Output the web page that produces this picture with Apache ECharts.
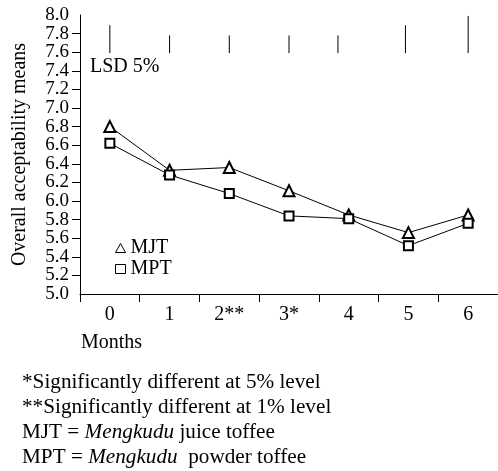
<!DOCTYPE html>
<html>
<head>
<meta charset="utf-8">
<script src="https://cdn.jsdelivr.net/npm/echarts@6/dist/echarts.min.js"></script>
<style>
  html, body { margin: 0; padding: 0; background: #fff; }
  #chart { width: 498px; height: 471px; }
</style>
</head>
<body>
<div id="chart"></div>
<script>
// months (category labels)
var months = ["0", "1", "2**", "3*", "4", "5", "6"];
// overall acceptability means
var mjt = [6.80, 6.33, 6.36, 6.11, 5.85, 5.66, 5.85];
var mpt = [6.62, 6.28, 6.08, 5.84, 5.81, 5.52, 5.76];
// LSD 5% bars: x position (months), bottom, top
var lsdX = [0, 1, 2, 3, 3.82, 4.95, 6];
var lsdBottom = [7.59, 7.59, 7.59, 7.59, 7.59, 7.59, 7.59];
var lsdTop = [7.89, 7.78, 7.78, 7.78, 7.78, 7.89, 7.99];
// y range
var yMin = 5;
var yMax = 8;

var serif = "'Liberation Serif', 'DejaVu Serif', serif";

var lsdData = lsdX.map(function (x, i) {
  return [x, lsdBottom[i], lsdTop[i]];
});

var labelStyle = {
  fontFamily: serif,
  fontSize: 19,
  color: "#000",
  margin: 11,
};

var myChart = echarts.init(document.getElementById("chart"));

myChart.setOption({
  animation: false,
  textStyle: { fontFamily: serif, color: "#000" },
  grid: { left: 80, right: -2, top: 15, bottom: 177, containLabel: false },
  legend: {
    orient: "vertical",
    left: 110,
    top: 233,
    itemWidth: 10,
    itemHeight: 9,
    itemGap: 1,
    itemStyle: { color: "#fff", borderColor: "#000", borderWidth: 1 },
    textStyle: { fontFamily: serif, fontSize: 20, color: "#000" },
    data: [
      { name: "MJT", icon: "triangle" },
      { name: "MPT", icon: "rect" },
    ],
  },
  xAxis: [
    {
      type: "category",
      data: months,
      boundaryGap: true,
      axisLine: { lineStyle: { color: "#000", width: 1 } },
      axisTick: { show: true, length: 8, lineStyle: { color: "#000" } },
      axisLabel: { fontFamily: serif, fontSize: 20, color: "#000", margin: 11 },
      splitLine: { show: false },
    },
    {
      type: "value",
      min: -0.5,
      max: 6.5,
      show: false,
    },
  ],
  yAxis: [
    {
      type: "value",
      min: yMin,
      max: yMax,
      interval: 0.2,
      name: "Overall acceptability means",
      nameLocation: "middle",
      nameGap: 50,
      nameTextStyle: { fontFamily: serif, fontSize: 20, color: "#000" },
      axisLine: { show: true, onZero: false, lineStyle: { color: "#000", width: 1 } },
      axisTick: { show: true, length: 8, lineStyle: { color: "#000" } },
      axisLabel: Object.assign({}, labelStyle, {
        showMinLabel: false,
        showMaxLabel: false,
        formatter: function (v) {
          return v.toFixed(1);
        },
      }),
      splitLine: { show: false },
    },
    {
      // 5.0 和 8.0 单独画，避免被重叠检测隐藏
      type: "value",
      min: yMin,
      max: yMax,
      interval: 1,
      position: "left",
      offset: 0,
      alignTicks: false,
      axisLine: { show: false, onZero: false },
      axisTick: { show: false },
      axisLabel: Object.assign({}, labelStyle, {
        formatter: function (v) {
          return v === yMin || v === yMax ? v.toFixed(1) : "";
        },
      }),
      splitLine: { show: false },
    },
  ],
  graphic: [
    {
      type: "text",
      left: 90,
      top: 57,
      style: { text: "LSD 5%", font: "20px " + serif, fill: "#000" },
    },
    {
      type: "text",
      left: 81,
      top: 333,
      style: { text: "Months", font: "20px " + serif, fill: "#000" },
    },
    {
      type: "text",
      x: 22,
      y: 370,
      scaleX: 1.06,
      style: {
        text:
          "*Significantly different at 5% level\n" +
          "**Significantly different at 1% level\n" +
          "MJT = {i|Mengkudu} juice toffee\n" +
          "MPT = {i|Mengkudu}  powder toffee",
        font: "20px " + serif,
        fill: "#000",
        lineHeight: 25,
        rich: {
          i: { fontStyle: "italic", fontFamily: serif, fontSize: 20, lineHeight: 25 },
        },
      },
    },
  ],
  series: [
    {
      name: "MJT",
      type: "line",
      data: mjt,
      symbol: "emptyTriangle",
      symbolSize: 11,
      lineStyle: { color: "#000", width: 1 },
      itemStyle: { color: "#000", borderColor: "#000", borderWidth: 1 },
    },
    {
      name: "MPT",
      type: "line",
      data: mpt,
      symbol: "emptyRect",
      symbolSize: 9,
      lineStyle: { color: "#000", width: 1 },
      itemStyle: { color: "#000", borderColor: "#000", borderWidth: 1 },
    },
    {
      name: "LSD",
      type: "custom",
      xAxisIndex: 1,
      data: lsdData,
      renderItem: function (params, api) {
        var p1 = api.coord([api.value(0), api.value(1)]);
        var p2 = api.coord([api.value(0), api.value(2)]);
        return {
          type: "line",
          shape: { x1: p1[0], y1: p1[1], x2: p2[0], y2: p2[1] },
          style: { stroke: "#000", lineWidth: 1 },
        };
      },
    },
  ],
});
</script>
</body>
</html>
